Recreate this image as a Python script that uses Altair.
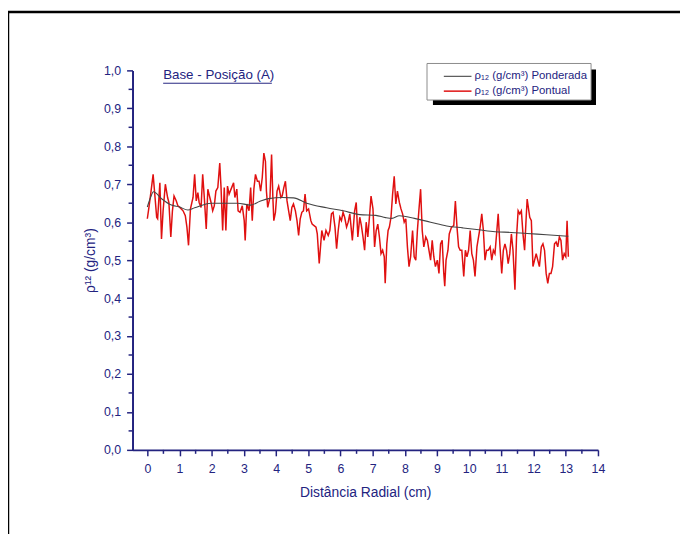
import altair as alt
import pandas as pd

# ---- data ----
x_pontual = [0, 0.05, 0.11, 0.18, 0.24, 0.29, 0.32, 0.39, 0.44, 0.49, 0.56, 0.63, 0.67, 0.73, 0.78, 0.83,
             0.90, 0.95, 1.01, 1.11, 1.18, 1.23, 1.28, 1.34, 1.42, 1.47, 1.52, 1.57, 1.61, 1.67, 1.72, 1.77,
             1.83, 1.88, 1.93, 1.98, 2.03, 2.08, 2.13, 2.19, 2.25, 2.29, 2.34, 2.39, 2.44, 2.49, 2.54, 2.62,
             2.68, 2.72, 2.78, 2.82, 2.88, 2.95, 3.01, 3.04, 3.09, 3.16, 3.21, 3.26, 3.31, 3.36, 3.42, 3.47,
             3.52, 3.57, 3.62, 3.67, 3.70, 3.74, 3.81, 3.86, 3.90, 3.93, 3.98, 4.03, 4.08, 4.15, 4.19, 4.24,
             4.29, 4.34, 4.39, 4.44, 4.49, 4.54, 4.60, 4.65, 4.70, 4.75, 4.80, 4.85, 4.90, 4.95, 5.01, 5.08,
             5.12, 5.18, 5.24, 5.28, 5.34, 5.42, 5.49, 5.55, 5.62, 5.67, 5.72, 5.77, 5.83, 5.88, 5.93, 5.98,
             6.03, 6.08, 6.13, 6.19, 6.24, 6.29, 6.37, 6.44, 6.49, 6.54, 6.60, 6.65, 6.70, 6.75, 6.80,
             6.85, 6.90, 6.95, 7.01, 7.06, 7.11, 7.16, 7.21, 7.26, 7.31, 7.36, 7.39, 7.44, 7.48, 7.52, 7.57,
             7.62, 7.67, 7.72, 7.77, 7.83, 7.88, 7.93, 7.98, 8.03, 8.08, 8.13, 8.18, 8.24, 8.29, 8.34, 8.39,
             8.44, 8.49, 8.54, 8.59, 8.65, 8.70, 8.75, 8.80, 8.85, 8.90, 8.95, 9.01, 9.06, 9.11, 9.16, 9.21,
             9.24, 9.28, 9.34, 9.38, 9.45, 9.52, 9.57, 9.62, 9.67, 9.72, 9.77, 9.83, 9.88, 9.93, 9.98, 10.03,
             10.08, 10.13, 10.18, 10.24, 10.29, 10.34, 10.39, 10.44, 10.49, 10.54, 10.59, 10.65, 10.70, 10.75,
             10.80, 10.85, 10.90, 10.95, 11.01, 11.06, 11.11, 11.16, 11.21, 11.26, 11.31, 11.36, 11.42, 11.47,
             11.52, 11.57, 11.62, 11.67, 11.72, 11.77, 11.80, 11.88, 11.93, 11.98, 12.03, 12.08, 12.13, 12.18,
             12.24, 12.29, 12.34, 12.39, 12.44, 12.49, 12.54, 12.59, 12.65, 12.70, 12.75, 12.80, 12.85, 12.90,
             12.95, 13.00, 13.04, 13.08]
y_pontual = [0.609, 0.639, 0.678, 0.726, 0.665, 0.613, 0.609, 0.704, 0.556, 0.630, 0.700, 0.665, 0.652, 0.561, 0.630, 0.669,
             0.656, 0.643, 0.639, 0.630, 0.617, 0.587, 0.539, 0.635, 0.665, 0.726, 0.656, 0.678, 0.652, 0.639, 0.726, 0.665,
             0.582, 0.687, 0.669, 0.652, 0.630, 0.643, 0.682, 0.691, 0.756, 0.691, 0.578, 0.691, 0.578, 0.695, 0.674, 0.691,
             0.704, 0.665, 0.687, 0.630, 0.626, 0.643, 0.604, 0.552, 0.648, 0.630, 0.691, 0.604, 0.687, 0.726, 0.708, 0.708,
             0.682, 0.717, 0.782, 0.760, 0.682, 0.639, 0.665, 0.778, 0.665, 0.604, 0.626, 0.682, 0.695, 0.665, 0.669, 0.691,
             0.708, 0.656, 0.630, 0.604, 0.639, 0.648, 0.630, 0.604, 0.565, 0.609, 0.626, 0.630, 0.674, 0.630, 0.635, 0.604,
             0.595, 0.591, 0.587, 0.569, 0.491, 0.578, 0.552, 0.578, 0.565, 0.578, 0.622, 0.626, 0.587, 0.530, 0.578, 0.613,
             0.604, 0.626, 0.613, 0.587, 0.600, 0.622, 0.552, 0.630, 0.652, 0.561, 0.613, 0.591, 0.561, 0.526, 0.600,
             0.561, 0.613, 0.669, 0.635, 0.535, 0.578, 0.595, 0.561, 0.517, 0.526, 0.509, 0.439, 0.543, 0.578, 0.587, 0.613,
             0.674, 0.721, 0.648, 0.682, 0.652, 0.635, 0.622, 0.600, 0.609, 0.535, 0.483, 0.509, 0.578, 0.509, 0.500, 0.578,
             0.635, 0.687, 0.578, 0.535, 0.561, 0.552, 0.526, 0.500, 0.552, 0.509, 0.483, 0.500, 0.465, 0.543, 0.552, 0.465,
             0.431, 0.500, 0.526, 0.569, 0.587, 0.591, 0.656, 0.587, 0.535, 0.526, 0.526, 0.457, 0.526, 0.509, 0.526, 0.578,
             0.517, 0.500, 0.457, 0.535, 0.561, 0.587, 0.622, 0.578, 0.500, 0.526, 0.526, 0.535, 0.500, 0.526,
             0.517, 0.569, 0.622, 0.543, 0.465, 0.526, 0.543, 0.526, 0.491, 0.517, 0.569, 0.526, 0.422, 0.561,
             0.630, 0.622, 0.630, 0.569, 0.526, 0.613, 0.661, 0.613, 0.604, 0.483, 0.500, 0.517, 0.500, 0.483,
             0.535, 0.543, 0.526, 0.465, 0.439, 0.465, 0.465, 0.483, 0.543, 0.548, 0.535, 0.561, 0.552, 0.500,
             0.517, 0.509, 0.604, 0.509]

x_ponderada = [0, 0.1, 0.19, 0.44, 0.75, 1.0, 1.26, 1.47, 1.98, 2.8, 3.21, 3.5, 3.77, 4.2, 4.54, 4.95,
               5.57, 6.08, 6.6, 7.1, 7.4, 7.6, 7.83, 8.3, 8.8, 9.3, 9.8, 10.3, 10.8, 11.3, 11.8, 12.4, 13.08]
y_ponderada = [0.64, 0.665, 0.68, 0.662, 0.645, 0.64, 0.632, 0.638, 0.65, 0.65, 0.645, 0.655, 0.662, 0.665, 0.664, 0.65,
               0.638, 0.63, 0.62, 0.618, 0.612, 0.61, 0.617, 0.61, 0.60, 0.59, 0.585, 0.58, 0.575, 0.573, 0.57, 0.567, 0.563]

x_major = list(range(15))
x_minor = [i + 0.5 for i in range(14)]
y_major = [round(i * 0.1, 1) for i in range(11)]
y_minor = [round(i * 0.1 + 0.05, 2) for i in range(10)]

titulo = "Base - Posição (A)"
leg_labels = ["ρ₁₂ (g/cm³) Ponderada", "ρ₁₂ (g/cm³) Pontual"]
x_title = "Distância Radial (cm)"
y_title = "ρ¹² (g/cm³)"

NAVY = "#23237f"
FONT = "Liberation Sans"

df_p = pd.DataFrame({"x": x_pontual, "y": y_pontual})
df_m = pd.DataFrame({"x": x_ponderada, "y": y_ponderada})
df_xminor = pd.DataFrame({"x": x_minor})
df_yminor = pd.DataFrame({"y": y_minor})

xscale = alt.Scale(domain=[-0.46, 14], nice=False, zero=False)
yscale = alt.Scale(domain=[0, 1.0], nice=False)

xaxis = alt.Axis(
    values=x_major, format="d", tickSize=6,
    grid=False, domainColor=NAVY, domainWidth=2, tickColor=NAVY, tickWidth=1.5,
    labelColor=NAVY, labelFontSize=12.5, labelFont=FONT, labelPadding=7, labelOverlap=False, labelFlush=False,
    title=x_title, titleColor=NAVY, titleFontSize=14, titleFont=FONT, titleFontWeight="normal", titlePadding=11,
)
yaxis = alt.Axis(
    values=y_major, tickSize=6,
    labelExpr="replace(format(datum.value, '.1f'), '.', ',')",
    grid=False, domainColor=NAVY, domainWidth=2, tickColor=NAVY, tickWidth=1.5,
    labelColor=NAVY, labelFontSize=12.5, labelFont=FONT, labelPadding=6, labelOverlap=False, labelFlush=False,
    title=y_title, titleColor=NAVY, titleFontSize=14, titleFont=FONT, titleFontWeight="normal", titlePadding=6,
)

X = alt.X("x:Q", scale=xscale, axis=xaxis)
Y = alt.Y("y:Q", scale=yscale, axis=yaxis)

red = alt.Chart(df_p).mark_line(color="#e01010", strokeWidth=1.5).encode(x=X, y=Y)
black = alt.Chart(df_m).mark_line(color="#454545", strokeWidth=1.1, interpolate="monotone").encode(x=X, y=Y)

# minor ticks (outside the plot, pointing outward like the major ones)
xminor = alt.Chart(df_xminor).mark_rule(color=NAVY, strokeWidth=1.5).encode(
    x=alt.X("x:Q", scale=xscale, axis=xaxis), y=alt.value(384), y2=alt.value(388))
yminor = alt.Chart(df_yminor).mark_rule(color=NAVY, strokeWidth=1.5).encode(
    y=alt.Y("y:Q", scale=yscale, axis=yaxis), x=alt.value(0), x2=alt.value(-4))

one = alt.Data(values=[{"a": 1}])

frame_top = alt.Chart(one).mark_rule(color="black", strokeWidth=2.5).encode(
    x=alt.value(-127), x2=alt.value(560), y=alt.value(-59))
frame_left = alt.Chart(one).mark_rule(color="black", strokeWidth=2.5).encode(
    x=alt.value(-126), y=alt.value(-60), y2=alt.value(470))

title_txt = alt.Chart(one).mark_text(align="left", baseline="middle", font=FONT, fontSize=13.5, color=NAVY).encode(
    x=alt.value(31), y=alt.value(5), text=alt.value(titulo))
title_ul = alt.Chart(one).mark_rule(color=NAVY, strokeWidth=1).encode(
    x=alt.value(31), x2=alt.value(141), y=alt.value(13))

shadow = alt.Chart(one).mark_rect(color="black").encode(
    x=alt.value(304), x2=alt.value(469), y=alt.value(-1), y2=alt.value(35))
box = alt.Chart(one).mark_rect(fill="white", stroke="#8a8a8a", strokeWidth=1).encode(
    x=alt.value(298), x2=alt.value(464), y=alt.value(-7), y2=alt.value(30))
leg_l1 = alt.Chart(one).mark_rule(color="#454545", strokeWidth=1.1).encode(
    x=alt.value(315), x2=alt.value(343), y=alt.value(6))
leg_l2 = alt.Chart(one).mark_rule(color="#e01010", strokeWidth=1.5).encode(
    x=alt.value(315), x2=alt.value(343), y=alt.value(21))
leg_t1 = alt.Chart(one).mark_text(align="left", baseline="middle", font=FONT, fontSize=11.5, color=NAVY).encode(
    x=alt.value(346), y=alt.value(6), text=alt.value(leg_labels[0]))
leg_t2 = alt.Chart(one).mark_text(align="left", baseline="middle", font=FONT, fontSize=11.5, color=NAVY).encode(
    x=alt.value(346), y=alt.value(21), text=alt.value(leg_labels[1]))

chart = alt.layer(
    red, black, xminor, yminor, frame_top, frame_left, title_txt, title_ul,
    shadow, box, leg_l1, leg_l2, leg_t1, leg_t2,
).properties(
    width=471, height=384,
    autosize=alt.AutoSizeParams(type="none"),
    padding={"left": 126, "top": 60, "right": 83, "bottom": 82},
    background="white",
).configure_view(stroke="transparent")

chart.save("out.html", embed_options={"renderer": "svg", "actions": False})
